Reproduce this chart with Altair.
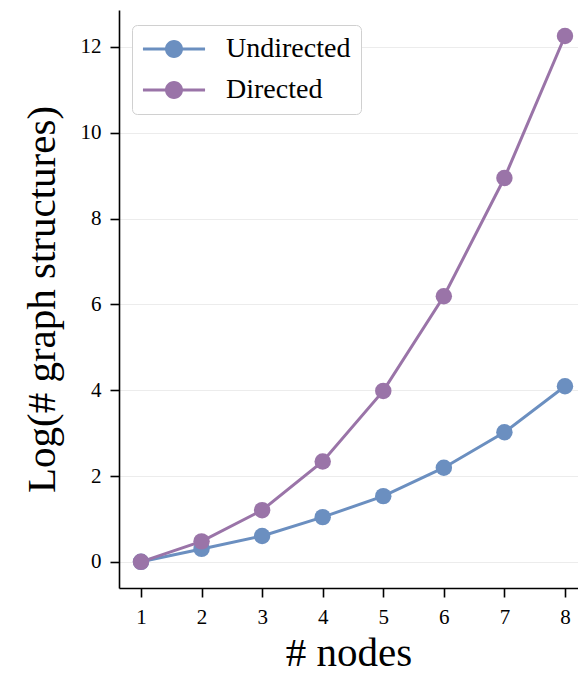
import altair as alt
import pandas as pd

nodes = [1, 2, 3, 4, 5, 6, 7, 8]
undirected = [0.0, 0.301, 0.602, 1.041, 1.531, 2.193, 3.019, 4.092]
directed = [0.0, 0.477, 1.204, 2.338, 3.983, 6.188, 8.945, 12.254]
series_names = ["Undirected", "Directed"]
series_colors = ["#6b8fc0", "#9a74a8"]
y_ticks = [0, 2, 4, 6, 8, 10, 12]

rows = []
for n, u, d in zip(nodes, undirected, directed):
    rows.append({"nodes": n, "value": u, "series": "Undirected"})
    rows.append({"nodes": n, "value": d, "series": "Directed"})
df = pd.DataFrame(rows)

FONT = "Liberation Serif"

# symbol drawn at scale 9px per unit: line +-31px, circle radius 9px
legend_symbol = (
    "M-3.45,-0.17 L3.45,-0.17 L3.45,0.17 L-3.45,0.17 Z "
    "M1,0 A1,1 0 1,1 -1,0 A1,1 0 1,1 1,0 Z"
)

legend = alt.Legend(title=None, orient="none", legendX=13, legendY=15,
                    symbolType=legend_symbol, symbolSize=324, symbolOffset=18,
                    symbolStrokeWidth=0, symbolOpacity=1,
                    labelFont=FONT, labelFontSize=28, labelColor="black",
                    labelOffset=38,
                    strokeColor="#d0d0d0", fillColor="white",
                    cornerRadius=5, padding=10, rowPadding=13)

x = alt.X("nodes:Q", scale=alt.Scale(domain=[0.637, 8.215], nice=False, zero=False),
          axis=alt.Axis(values=nodes, title="# nodes", grid=False, format="d"))
y = alt.Y("value:Q", scale=alt.Scale(domain=[-0.61, 12.86], nice=False, zero=False),
          axis=alt.Axis(values=y_ticks, title="Log(# graph structures)", grid=True))

color = alt.Color("series:N", scale=alt.Scale(domain=series_names, range=series_colors),
                  sort=series_names, legend=legend)

lines = alt.Chart(df).mark_line(strokeWidth=3).encode(
    x=x, y=y, color=color, order=alt.Order("nodes:Q"),
)
points = alt.Chart(df).mark_point(filled=True, size=270, opacity=1).encode(
    x=x, y=y, color=color,
)

chart = alt.layer(lines, points).properties(
    width=459, height=578,
    autosize=alt.AutoSizeParams(type="none"),
    padding={"left": 111, "top": 2, "right": 0, "bottom": 88},
).configure_view(stroke=None).configure_axis(
    labelFont=FONT, labelFontSize=21, labelColor="black",
    titleFont=FONT, titleFontSize=41, titleFontWeight="normal", titleColor="black",
    domainColor="black", domainWidth=1.6, tickColor="black", tickWidth=1.6, tickSize=9,
    gridColor="#ececec", gridWidth=1,
).configure_axisY(titlePadding=17, labelPadding=9).configure_axisX(titlePadding=6, labelPadding=9)

chart.save("out.html", embed_options={"renderer": "svg", "actions": False})
